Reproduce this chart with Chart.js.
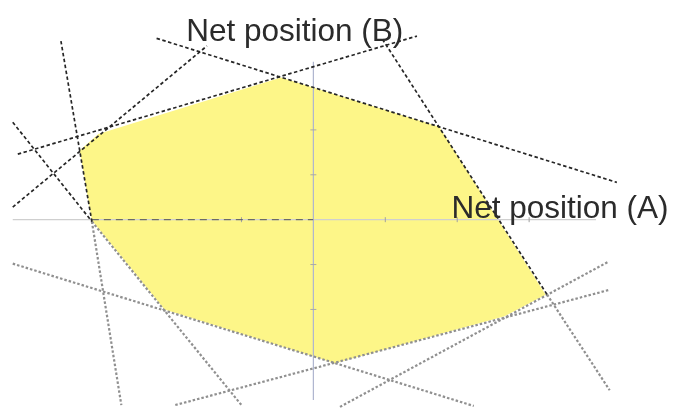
<!DOCTYPE html>
<html>
<head>
<meta charset="utf-8">
<script src="https://cdn.jsdelivr.net/npm/chart.js@4.4.1/dist/chart.umd.min.js"></script>
<style>
    html, body { margin: 0; padding: 0; background: #ffffff; }
    #wrap { width: 676px; height: 413px; position: relative; }
</style>
</head>
<body>
<div id="wrap"><canvas id="myChart"></canvas></div>
<script>
// units: 1 on x = one tick step on the A axis, 1 on y = one tick step on the B axis
const feasibleRegion = [
    [-0.45, 3.17], [1.75, 2.07], [3.23, -1.67], [2.66, -2.15], [0.30, -3.20],
    [-2.07, -2.00], [-3.08, -0.02], [-3.25, 1.54], [-2.99, 1.91], [-0.45, 3.17]
];
// constraint lines drawn dark (upper part of the figure)
const darkLines = [
    [[-2.18, 4.04], [4.22, 0.83]],
    [[-4.11, 1.46], [1.44, 4.09]],
    [[-4.18, 0.28], [-1.48, 3.87]],
    [[-4.18, 2.17], [-3.08, -0.04]],
    [[-3.51, 3.98], [-3.08, -0.04]],
    [[0.96, 4.02], [3.25, -1.67]]
];
// constraint lines drawn grey (lower part of the figure)
const greyLines = [
    [[-3.08, -0.04], [-1.00, -4.13]],
    [[-3.08, -0.04], [-2.67, -4.13]],
    [[3.25, -1.67], [4.12, -3.80]],
    [[-4.18, -0.98], [2.23, -4.15]],
    [[-1.92, -4.13], [4.10, -1.57]],
    [[0.37, -4.17], [4.11, -0.93]]
];
const axisA = [[-4.18, 0], [3.93, 0]];
const axisB = [[0, 3.52], [0, -4.02]];
const xTicks = [-1, 1, 2, 3];
const yTicks = [-2, -1, 1, 2];
const labelA = 'Net position (A)';
const labelB = 'Net position (B)';

const pts = arr => arr.map(p => ({ x: p[0], y: p[1] }));

document.addEventListener('DOMContentLoaded', function () {
    const ctx = document.getElementById('myChart').getContext('2d');

    const datasets = [];
    datasets.push({
        data: pts(feasibleRegion),
        borderWidth: 0,
        borderColor: 'rgba(0,0,0,0)',
        backgroundColor: '#fdf688',
        fill: 'shape',
        pointRadius: 0,
        tension: 0,
        order: 10
    });
    datasets.push({
        data: pts(axisA), borderColor: '#cfcfcf', borderWidth: 1.2, pointRadius: 0, order: 5
    });
    datasets.push({
        data: pts([[-3.08, 0], [0, 0]]), borderColor: '#555', borderWidth: 1, borderDash: [7, 5], pointRadius: 0, order: 4
    });
    datasets.push({
        data: pts(axisB), borderColor: '#aeb4cf', borderWidth: 1.2, pointRadius: 0, order: 5
    });
    datasets.push({
        data: yTicks.map(v => ({ x: 0, y: v })), showLine: false,
        pointStyle: 'line', pointRadius: 3, borderColor: '#a8a8a8', borderWidth: 1, order: 4
    });
    datasets.push({
        data: xTicks.map(v => ({ x: v, y: 0 })), showLine: false,
        pointStyle: 'line', rotation: 90, pointRadius: 2.5, borderColor: '#a0a0a0', borderWidth: 1, order: 4
    });
    greyLines.forEach(function (l) {
        datasets.push({
            data: pts(l), borderColor: '#909090', borderWidth: 2.2, borderDash: [2.5, 2],
            pointRadius: 0, order: 2
        });
    });
    darkLines.forEach(function (l) {
        datasets.push({
            data: pts(l), borderColor: '#262626', borderWidth: 1.7, borderDash: [3.5, 2.5],
            pointRadius: 0, order: 1
        });
    });

    const axisLabels = {
        id: 'axisLabels',
        afterDatasetsDraw(chart) {
            const c = chart.ctx;
            const xs = chart.scales.x, ys = chart.scales.y;
            c.save();
            c.fillStyle = '#2b2b2b';
            c.font = '31.5px "Liberation Sans", Arial, sans-serif';
            c.textBaseline = 'alphabetic';
            c.textAlign = 'center';
            c.fillText(labelB, xs.getPixelForValue(-0.26), ys.getPixelForValue(3.98));
            c.fillText(labelA, xs.getPixelForValue(3.43), ys.getPixelForValue(0.04));
            c.restore();
        }
    };

    const config = {
        type: 'line',
        data: { datasets: datasets },
        options: {
            responsive: true,
            maintainAspectRatio: false,
            animation: false,
            layout: { padding: 0 },
            scales: {
                x: { type: 'linear', display: false, min: -313 / 73, max: 363 / 73 },
                y: { type: 'linear', display: false, min: -193 / 46, max: 220 / 46 }
            },
            plugins: {
                legend: { display: false },
                tooltip: { enabled: false },
                filler: { drawTime: 'beforeDatasetsDraw' }
            }
        },
        plugins: [axisLabels]
    };
    const myChart = new Chart(ctx, config);
});
</script>
</body>
</html>
